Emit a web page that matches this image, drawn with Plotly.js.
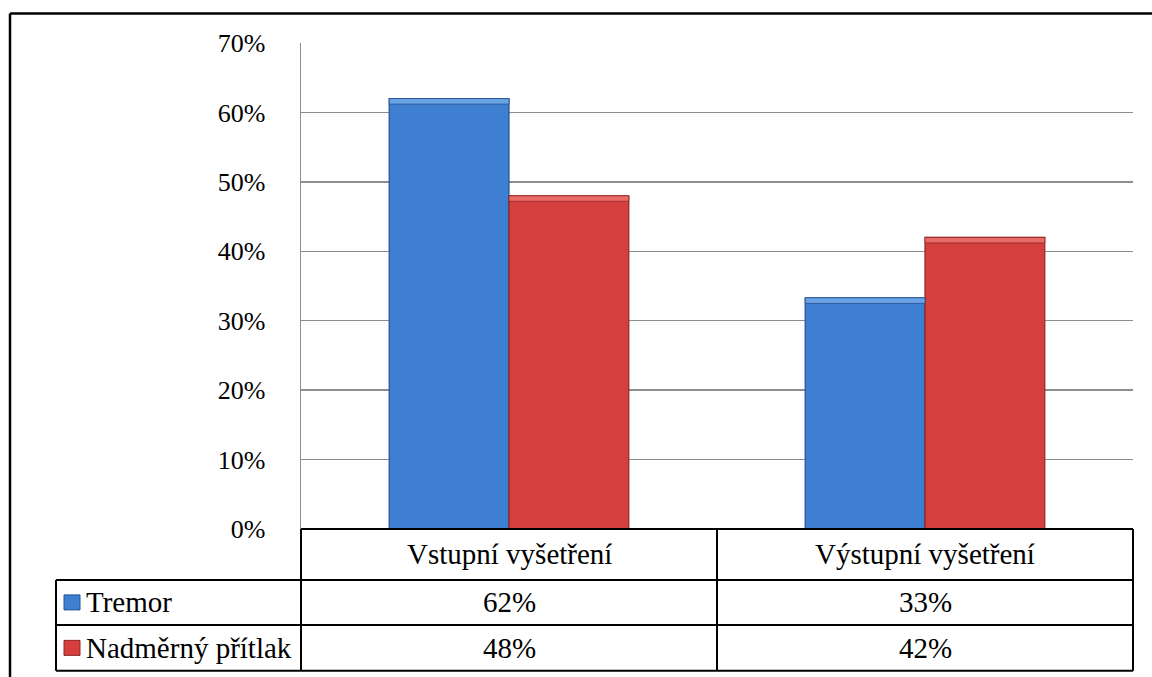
<!DOCTYPE html>
<html>
<head>
<meta charset="utf-8">
<script src="https://cdn.plot.ly/plotly-3.0.1.min.js"></script>
<style>html,body{margin:0;padding:0;background:#fff;}#chart{width:1152px;height:677px;}</style>
</head>
<body>
<div id="chart"></div>
<script>
const categories = ["Vstupní vyšetření", "Výstupní vyšetření"];
const seriesNames = ["Tremor", "Nadměrný přítlak"];
const tremor = [0.62, 0.333];
const pritlak = [0.48, 0.42];
const tickVals = [0, 0.1, 0.2, 0.3, 0.4, 0.5, 0.6, 0.7];
const tickText = ["0%", "10%", "20%", "30%", "40%", "50%", "60%", "70%"];

const W = 1152, H = 677;
const L = 301, R = 1133, T = 42.5, B = 529;
const px = x => (x - L) / (R - L);
const py = y => (B - y) / (B - T);
const FONT = "Liberation Serif";
const FS_TICK = 26;
const FS_TABLE = 29;

const colors = [
  {fill: "#3F7FD1", line: "#24528F", hi: "#6AA2E6"},
  {fill: "#D5403E", line: "#8E2625", hi: "#E96B68"}
];
const seriesVals = [tremor, pritlak];
const HI = 0.008;

const traces = [];
seriesVals.forEach((vals, i) => {
  traces.push({
    type: "bar", name: seriesNames[i], x: categories, y: vals, offsetgroup: "g" + i,
    marker: {color: colors[i].fill, line: {color: colors[i].line, width: 1.2}},
    hoverinfo: "x+y", showlegend: false
  });
});
seriesVals.forEach((vals, i) => {
  traces.push({
    type: "bar", name: seriesNames[i] + " hi", x: categories,
    y: vals.map(() => HI), base: vals.map(v => v - HI), offsetgroup: "g" + i,
    marker: {color: colors[i].hi, line: {color: colors[i].line, width: 0.8}},
    hoverinfo: "skip", showlegend: false
  });
});

const shapes = [];
const annotations = [];
const lineBlack = {color: "#000", width: 2};
function hline(x0, x1, y, line) {
  shapes.push({type: "line", xref: "paper", yref: "paper", x0: px(x0), x1: px(x1), y0: py(y), y1: py(y), line: line});
}
function vline(x, y0, y1, line) {
  shapes.push({type: "line", xref: "paper", yref: "paper", x0: px(x), x1: px(x), y0: py(y0), y1: py(y1), line: line});
}
hline(10, W + 5, 13, {color: "#000", width: 2.5});
vline(10, 13, H + 5, {color: "#000", width: 2.5});

const rowY = [529, 580, 625, 671];
const colX = [56, 301, 717, R];
hline(301, R, rowY[0], lineBlack);
hline(56, R, rowY[1], lineBlack);
hline(56, R, rowY[2], lineBlack);
hline(56, R, rowY[3], lineBlack);
vline(56, rowY[1], rowY[3], lineBlack);
vline(301, rowY[0], rowY[3], lineBlack);
vline(717, rowY[0], rowY[3], lineBlack);
vline(R, rowY[0], rowY[3], lineBlack);

const tfont = {family: FONT, size: FS_TABLE, color: "#000"};
categories.forEach((c, j) => {
  annotations.push({xref: "paper", yref: "paper", x: px((colX[j + 1] + colX[j + 2]) / 2), y: py((rowY[0] + rowY[1]) / 2),
    text: c, showarrow: false, font: tfont, xanchor: "center", yanchor: "middle"});
});
seriesVals.forEach((vals, i) => {
  const yc = (rowY[i + 1] + rowY[i + 2]) / 2;
  annotations.push({xref: "paper", yref: "paper", x: px(84), y: py(yc), text: seriesNames[i], showarrow: false,
    font: tfont, xanchor: "left", yanchor: "middle"});
  shapes.push({type: "rect", xref: "paper", yref: "paper", x0: px(64), x1: px(80), y0: py(yc - 7.5), y1: py(yc + 7.5),
    fillcolor: colors[i].fill, line: {color: colors[i].line, width: 1}});
  vals.forEach((v, j) => {
    annotations.push({xref: "paper", yref: "paper", x: px((colX[j + 1] + colX[j + 2]) / 2), y: py(yc),
      text: Math.round(v * 100) + "%", showarrow: false, font: tfont, xanchor: "center", yanchor: "middle"});
  });
});

const layout = {
  width: W, height: H,
  margin: {l: L, r: W - R, t: T, b: H - B, pad: 0},
  paper_bgcolor: "#fff", plot_bgcolor: "#fff",
  barmode: "group", bargap: 0.424, bargroupgap: 0,
  showlegend: false,
  font: {family: FONT, size: FS_TICK, color: "#000"},
  xaxis: {showticklabels: false, showgrid: false, zeroline: false, showline: false, ticks: "", fixedrange: true},
  yaxis: {range: [0, 0.7], tickvals: tickVals, ticktext: tickText, showgrid: true, gridcolor: "#8E8E8E", gridwidth: 1.5,
    zeroline: false, showline: true, linecolor: "#8E8E8E", linewidth: 1.5, ticks: "", ticklabelstandoff: 29,
    tickfont: {family: FONT, size: FS_TICK, color: "#000"}, fixedrange: true},
  shapes: shapes,
  annotations: annotations
};
Plotly.newPlot("chart", traces, layout, {displayModeBar: false, staticPlot: true});
</script>
</body>
</html>
